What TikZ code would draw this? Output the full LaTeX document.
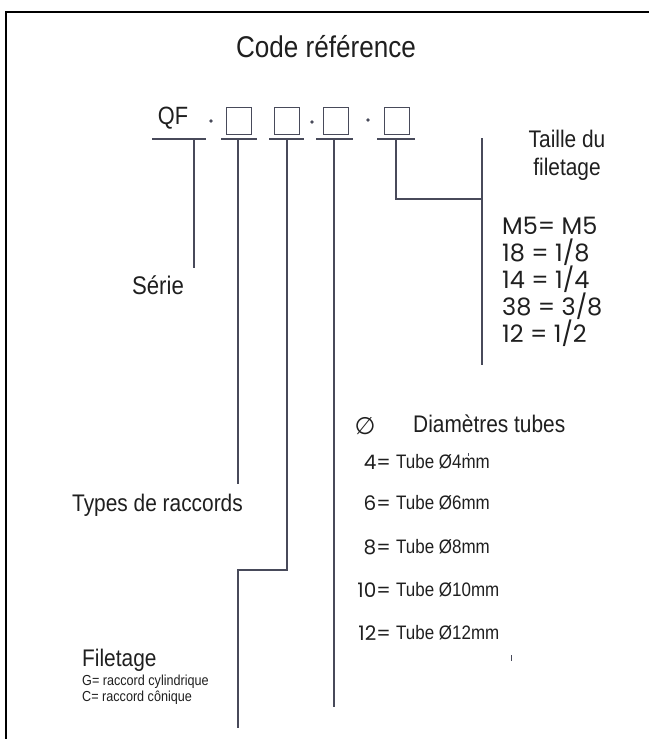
\documentclass[tikz,border=0pt]{standalone}
\usepackage{fontspec}
\setmainfont{Liberation Sans}[FakeStretch=0.87]
\newfontfamily\geo{Poppins}
\newfontfamily\symb{DejaVu Sans}
\newcommand{\taille}[1]{\fontsize{#1}{#1}\selectfont}
\definecolor{trait}{RGB}{72,74,90}
\tikzset{
  lien/.style={draw=trait, line width=1.2pt},
  case/.style={draw=trait, line width=1pt, minimum width=25pt, minimum height=27pt, inner sep=0pt},
  texte/.style={inner sep=0pt, text=black!88},
}

\begin{document}
\begin{tikzpicture}[x=1pt, y=-1pt]
    \useasboundingbox (0,0) rectangle (649,739);
    % Cadre
    \draw[line width=2pt] (6,739) -- (6,12) -- (649,12);

    % Titre
    \node[texte] (titre) at (326,47) {\taille{30}Code référence};

    % Code : QF . [] [] . [] . []
    \node[texte] (qf) at (173,118) {\taille{25}QF};
    \fill[trait] (211,121) circle (1.8);
    \node[case] (case1) at (238.5,120.5) {};
    \node[case] (case2) at (287,120.5) {};
    \fill[trait] (312,122) circle (1.8);
    \node[case] (case3) at (335.5,120.5) {};
    \fill[trait] (368,120) circle (1.8);
    \node[case] (case4) at (396.5,120.5) {};

    % Soulignements
    \foreach \a/\b in {152/206, 221/257, 269/304, 316/353, 377/415}
        \draw[lien] (\a,139) -- (\b,139);

    % Points des lignes de rappel
    \coordinate (r1) at (194,139);
    \coordinate (r2) at (238,139);
    \coordinate (r3) at (287,139);
    \coordinate (r4) at (334,139);
    \coordinate (r5) at (396,139);
    \coordinate (serie) at (194,268);
    \coordinate (types) at (238,484);
    \coordinate (coude3) at (287,570);
    \coordinate (coude3b) at (238,570);
    \coordinate (filet) at (238,728);
    \coordinate (diam) at (334,707);
    \coordinate (coude5) at (396,199);
    \coordinate (barre) at (482,199);
    \coordinate (barreh) at (482,138);
    \coordinate (barreb) at (482,365);

    % Lignes de rappel
    \draw[lien] (r1) -- (serie);
    \draw[lien] (r2) -- (types);
    \draw[lien] (r3) -- (coude3) -- (coude3b) -- (filet);
    \draw[lien] (r4) -- (diam);
    \draw[lien] (r5) -- (coude5) -- (barre);
    \draw[lien] (barreh) -- (barreb);

    % Textes de gauche
    \node[texte] (tserie) at (158,285) {\taille{25.5}Série};
    \node[texte, anchor=west] (ttypes) at (72,505) {\taille{24}Types de raccords};
    \node[texte, anchor=west] (tfilet) at (82,660) {\taille{24}Filetage};
    \node[texte, anchor=west] (tg) at (82,682) {\taille{14.5}G= raccord cylindrique};
    \node[texte, anchor=west] (tc) at (82,698) {\taille{14.5}C= raccord cônique};

    % Taille du filetage
    \node[texte, anchor=base] (ttaille) at (567,147) {\taille{24}Taille du};
    \node[texte, anchor=base] (tfiletage) at (567,175) {\taille{24}filetage};
    \foreach \t [count=\i from 0] in {{M5= M5}, {18 = 1/8}, {14 = 1/4}, {38 = 3/8}, {12 = 1/2}}
        \node[texte, anchor=base west] (pas\i) at (502,234+27*\i) {\geo\taille{24}\t};

    % Diamètres tubes
    \node[texte] (phi) at (365,426) {\symb\taille{24}∅};
    \node[texte, anchor=west] (tdiam) at (413,424) {\taille{24}Diamètres tubes};
    \foreach \n/\y in {4/462, 6/503, 8/547, 10/590, 12/633} {
        \node[texte, anchor=east] (num\n) at (391,\y) {\geo\taille{20}\n=};
        \node[texte, anchor=west] (tube\n) at (396,\y) {\taille{19.5}Tube Ø\n mm};
    }
    % petits traits parasites
    \draw[lien, line width=0.7pt] (468,453) -- (468,456);
    \draw[lien, line width=0.9pt] (511,655) -- (511,661);
\end{tikzpicture}
\end{document}
